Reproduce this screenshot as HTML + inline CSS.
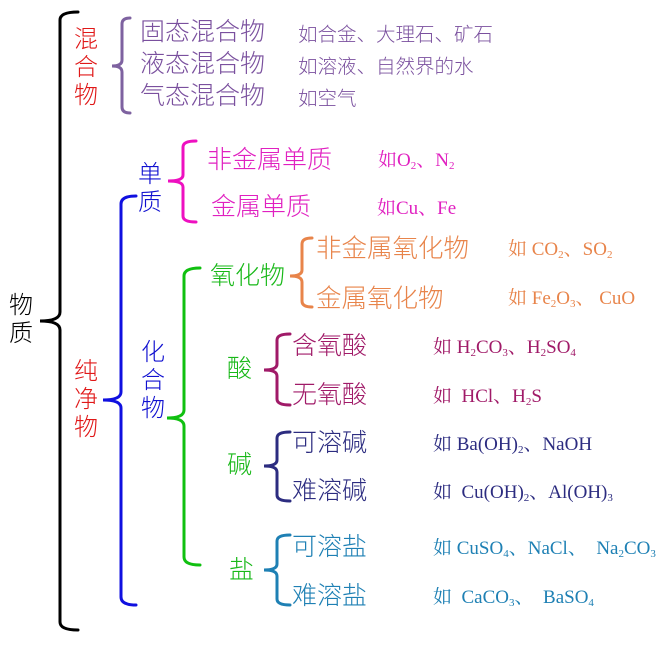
<!DOCTYPE html>
<html><head><meta charset="utf-8"><style>
body{margin:0;background:#fff;width:665px;height:647px;position:relative;overflow:hidden;font-family:"Liberation Serif","Noto Sans CJK SC",serif;}
.t{position:absolute;white-space:nowrap;line-height:1;font-family:"Noto Sans CJK SC","WenQuanYi Zen Hei",sans-serif;font-weight:300}
.v{width:26px;white-space:normal;line-height:28px;text-align:center}
.e{position:absolute;white-space:nowrap;line-height:1;font-size:19px;font-family:"Liberation Serif","Noto Serif CJK SC",serif}
.c{font-size:19.5px;font-family:"Noto Sans CJK SC",sans-serif;font-weight:300}
sub{font-size:11px;vertical-align:-3px;line-height:0}
svg{position:absolute;left:0;top:0}
</style></head><body>
<svg width="665" height="647" fill="none" stroke-width="3" stroke-linecap="round">
<path d="M78 12 Q60 12 60 20 L60 312 Q60 321 40 321 Q60 321 60 330 L60 622 Q60 630 78 630" stroke="#000"/>
<path d="M130 18 Q122 18 122 24 L122 60 Q122 66 112 66 Q122 66 122 72 L122 107 Q122 113 130 113" stroke="#7e62a0"/>
<path d="M136 196 Q121 196 121 204 L121 392 Q121 400 103 400 Q121 400 121 408 L121 597 Q121 605 136 605" stroke="#1010e0"/>
<path d="M196 141 Q183 141 183 147 L183 175 Q183 181 168 181 Q183 181 183 187 L183 216 Q183 222 196 222" stroke="#ee10c0"/>
<path d="M200 268 Q184 268 184 276 L184 410 Q184 418 167 418 Q184 418 184 426 L184 557 Q184 565 200 565" stroke="#10c010"/>
<path d="M312 238 Q302 238 302 244 L302 270 Q302 276 290 276 Q302 276 302 282 L302 301 Q302 307 312 307" stroke="#e8844a"/>
<path d="M290 334 Q277 334 277 340 L277 364 Q277 370 264 370 Q277 370 277 376 L277 399 Q277 405 290 405" stroke="#a01a68"/>
<path d="M290 432 Q277 432 277 438 L277 460 Q277 466 264 466 Q277 466 277 472 L277 495 Q277 501 290 501" stroke="#2c2c80"/>
<path d="M290 535 Q277 535 277 541 L277 564 Q277 570 264 570 Q277 570 277 576 L277 599 Q277 605 290 605" stroke="#1e80b4"/>
</svg>

<div class="t v" style="left:8px;top:289px;font-size:24px;color:#000">物质</div>
<div class="t v" style="left:73px;top:23px;font-size:24px;color:#e01818">混合物</div>
<div class="t" style="left:140px;top:18px;font-size:25px;color:#7a509e">固态混合物</div>
<div class="t" style="left:140px;top:50px;font-size:25px;color:#7a509e">液态混合物</div>
<div class="t" style="left:140px;top:82px;font-size:25px;color:#7a509e">气态混合物</div>
<div class="t c" style="left:298px;top:23px;color:#7a509e">如合金、大理石、矿石</div>
<div class="t c" style="left:298px;top:55px;color:#7a509e">如溶液、自然界的水</div>
<div class="t c" style="left:298px;top:87px;color:#7a509e">如空气</div>

<div class="t v" style="left:137px;top:158px;font-size:24px;color:#1010d0">单质</div>
<div class="t" style="left:207px;top:146px;font-size:25px;color:#e020c0">非金属单质</div>
<div class="t" style="left:211px;top:193px;font-size:25px;color:#e020c0">金属单质</div>
<div class="e" style="left:378px;top:151px;color:#e020c0">如O<sub>2</sub>、N<sub>2</sub></div>
<div class="e" style="left:377px;top:199px;color:#e020c0">如Cu、Fe</div>

<div class="t v" style="left:73px;top:355px;font-size:24px;color:#e01818">纯净物</div>
<div class="t v" style="left:140px;top:336px;font-size:24px;color:#1010d0">化合物</div>

<div class="t" style="left:210px;top:262px;font-size:25px;color:#18b818">氧化物</div>
<div class="t" style="left:316px;top:234px;font-size:25.5px;color:#e8844a">非金属氧化物</div>
<div class="t" style="left:316px;top:284px;font-size:25.5px;color:#e8844a">金属氧化物</div>
<div class="e" style="left:508px;top:240px;color:#e8844a">如 CO<sub>2</sub>、SO<sub>2</sub></div>
<div class="e" style="left:508px;top:289px;color:#e8844a">如 Fe<sub>2</sub>O<sub>3</sub>、 CuO</div>

<div class="t" style="left:227px;top:355px;font-size:25px;color:#18b818">酸</div>
<div class="t" style="left:292px;top:332px;font-size:25px;color:#a01a68">含氧酸</div>
<div class="t" style="left:292px;top:381px;font-size:25px;color:#a01a68">无氧酸</div>
<div class="e" style="left:433px;top:338px;color:#a01a68">如 H<sub>2</sub>CO<sub>3</sub>、H<sub>2</sub>SO<sub>4</sub></div>
<div class="e" style="left:433px;top:387px;color:#a01a68">如&nbsp; HCl、H<sub>2</sub>S</div>

<div class="t" style="left:227px;top:451px;font-size:25px;color:#18b818">碱</div>
<div class="t" style="left:292px;top:429px;font-size:25px;color:#2c2c80">可溶碱</div>
<div class="t" style="left:292px;top:477px;font-size:25px;color:#2c2c80">难溶碱</div>
<div class="e" style="left:433px;top:435px;color:#2c2c80">如 Ba(OH)<sub>2</sub>、NaOH</div>
<div class="e" style="left:433px;top:483px;color:#2c2c80">如&nbsp; Cu(OH)<sub>2</sub>、Al(OH)<sub>3</sub></div>

<div class="t" style="left:229px;top:556px;font-size:25px;color:#18b818">盐</div>
<div class="t" style="left:292px;top:533px;font-size:25px;color:#1e80b4">可溶盐</div>
<div class="t" style="left:292px;top:582px;font-size:25px;color:#1e80b4">难溶盐</div>
<div class="e" style="left:433px;top:539px;color:#1e80b4">如 CuSO<sub>4</sub>、NaCl、 &nbsp;Na<sub>2</sub>CO<sub>3</sub></div>
<div class="e" style="left:433px;top:588px;color:#1e80b4">如&nbsp; CaCO<sub>3</sub>、 &nbsp;BaSO<sub>4</sub></div>
</body></html>
